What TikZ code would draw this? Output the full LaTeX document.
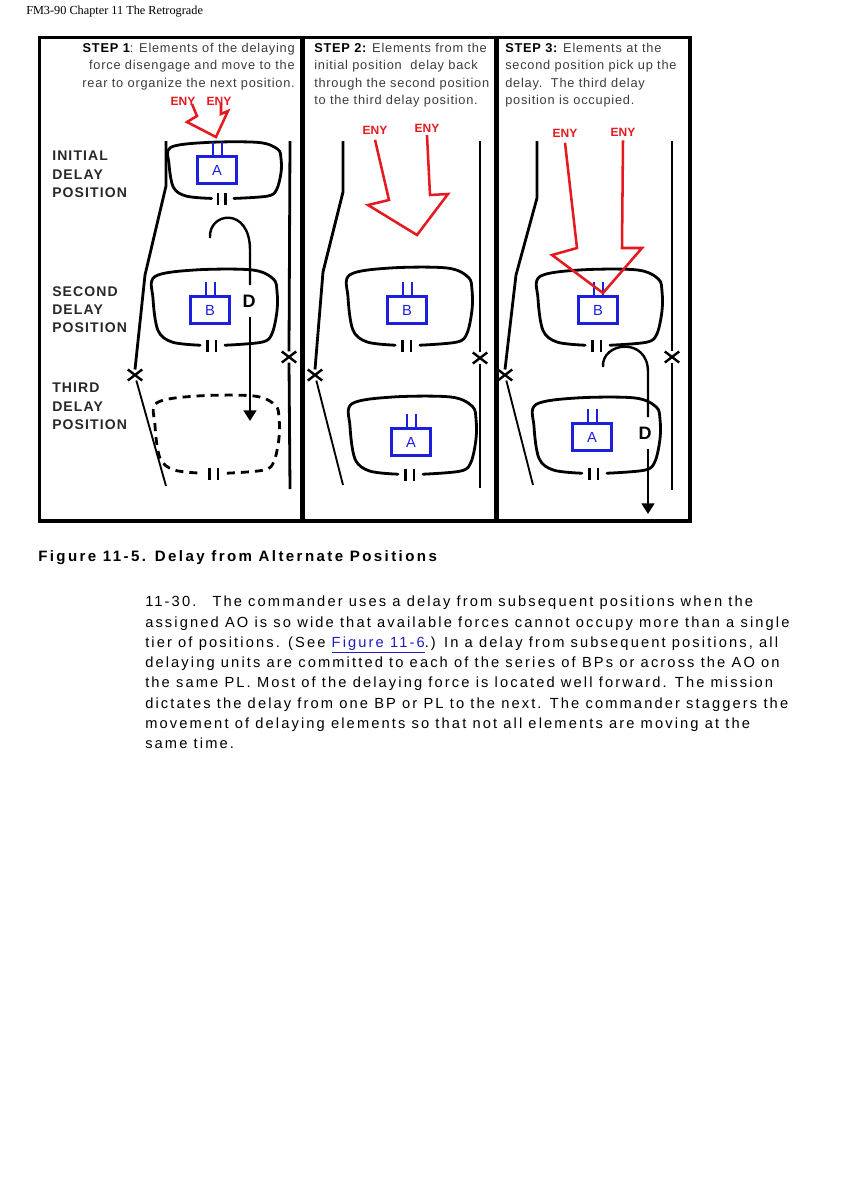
\documentclass[tikz,border=0pt]{standalone}
\usepackage{fontspec}
\setmainfont{Liberation Sans}
\newfontfamily\headfont{Liberation Serif}
\newfontfamily\stepfont{Liberation Sans}[LetterSpace=6]
\newfontfamily\labelfont{Liberation Sans}[LetterSpace=8]
\newfontfamily\capfont{Liberation Sans}[LetterSpace=16]
\newfontfamily\bodyfont{Liberation Sans}[LetterSpace=14.5]
\usetikzlibrary{arrows.meta,shapes.misc}
\definecolor{enyred}{RGB}{230,25,30}
\definecolor{unitblue}{RGB}{28,32,220}
\definecolor{stepgray}{RGB}{60,60,60}
\definecolor{labelgray}{RGB}{40,40,40}
\definecolor{linkblue}{RGB}{30,30,190}
\newcommand{\posblob}[5]{%
\begin{scope}[shift={(#1,#2)},xscale=#3,yscale=#4]
\draw[#5] plot[smooth,tension=0.55] coordinates {(0.16,0.98) (0.76,0.9) (0.92,0.68) (1,0.1) (1,-0.4) (0.94,-0.72) (0.6,-0.95) (-0.32,-0.95) (-0.97,-0.78) (-1,-0.22) (-0.92,0.6) (-0.69,0.9) (-0.24,0.98)};
\end{scope}
\draw[iimark] ({#1-0.12*#3},{#2+#4-6}) -- ++(0,12) ({#1+0.01*#3},{#2+#4-6}) -- ++(0,12);}
\newcommand{\unitticks}[1]{\draw[unittick] ([xshift=-3pt]#1.north) -- ++(0,-13) ([xshift=3.4pt]#1.north) -- ++(0,-13);}
\tikzset{
headtext/.style={font=\headfont\fontsize{9.2pt}{11pt}\selectfont,inner sep=0pt},
outerframe/.style={draw=black,line width=2.3pt},
divider/.style={draw=black,line width=3.3pt},
steptext/.style={font=\stepfont\fontsize{9.6pt}{13pt}\selectfont,text=stepgray,inner sep=0pt},
poslabel/.style={font=\labelfont\bfseries\fontsize{10.5pt}{13.7pt}\selectfont,text=labelgray,align=left,inner sep=0pt},
enylabel/.style={font=\bfseries\fontsize{9pt}{10pt}\selectfont,text=enyred,inner sep=0pt},
enyarrow/.style={draw=enyred,line width=1.9pt,line join=miter},
unitbox/.style={draw=unitblue,line width=1.9pt,minimum width=29pt,minimum height=20pt,inner sep=0pt,text=unitblue,font=\fontsize{11pt}{12pt}\selectfont},
unittick/.style={draw=unitblue,line width=1.5pt},
blob/.style={draw=black,line width=2.1pt,line cap=round},
dashblob/.style={draw=black,line width=2.1pt,dash pattern=on 6pt off 4.5pt},
iimark/.style={draw=black,line width=1.6pt},
posline/.style={draw=black,line width=2.1pt,line join=round},
thinline/.style={draw=black,line width=1.4pt},
xmark/.style={draw=black,cross out,line width=1.8pt,minimum width=9pt,minimum height=6.5pt,inner sep=0pt},
dlabel/.style={font=\bfseries\fontsize{13.5pt}{14pt}\selectfont,inner xsep=1pt,inner ysep=7pt},
moveline/.style={draw=black,line width=1.8pt},
movearrow/.style={draw=black,line width=1.8pt,-{Triangle[length=8pt,width=9.5pt]}},
captext/.style={font=\capfont\bfseries\fontsize{11.3pt}{12pt}\selectfont,inner sep=0pt},
bodytext/.style={font=\bodyfont\fontsize{11pt}{15.2pt}\selectfont,align=left,inner sep=0pt}
}
\begin{document}
\begin{tikzpicture}[x=0.75pt,y=-0.75pt]
\path[fill=white] (0,0) rectangle (846,1197);
\node[headtext,anchor=west] (runhead) at (26,12) {FM3-90 Chapter 11 The Retrograde};
\draw[outerframe] (39.5,37.5) rectangle (690,521);
\draw[divider] (302.5,37.5) -- (302.5,521);
\draw[divider] (496.5,37.5) -- (496.5,521);

\node[steptext,align=right,anchor=north east] (step1) at (295,43) {\textcolor{black}{\bfseries STEP 1}: Elements of the delaying\\force disengage and move to the\\rear to organize the next position.};
\node[steptext,align=left,anchor=north west] (step2) at (314,43) {\textcolor{black}{\bfseries STEP 2:} Elements from the\\initial position\ \ delay back\\through the second position\\to the third delay position.};
\node[steptext,align=left,anchor=north west] (step3) at (505,43) {\textcolor{black}{\bfseries STEP 3:} Elements at the\\second position pick up the\\delay.\ \ The third delay\\position is occupied.};

\node[poslabel,anchor=north west] (lblinit) at (52,151) {INITIAL\\DELAY\\POSITION};
\node[poslabel,anchor=north west] (lblsecond) at (52,286) {SECOND\\DELAY\\POSITION};
\node[poslabel,anchor=north west] (lblthird) at (52,383) {THIRD\\DELAY\\POSITION};

\node[xmark] (x1l) at (135,375) {};
\node[xmark] (x1r) at (289,357) {};
\draw[posline] (166,141) -- (166,186) -- (145,275) -- (x1l.north);
\draw[thinline] ([xshift=1pt]x1l.south) -- (166,486);
\draw[posline] (290,141) -- (x1r.north);
\draw[posline] (x1r.south) -- (290,489);
\node[xmark] (x2l) at (315,375) {};
\node[xmark] (x2r) at (480,358) {};
\draw[posline] (343,141) -- (343,192) -- (323,272) -- (x2l.north);
\draw[thinline] ([xshift=1pt]x2l.south) -- (343,485);
\draw[posline] (480,141) -- (x2r.north);
\draw[posline] (x2r.south) -- (480,488);
\node[xmark] (x3l) at (505,375) {};
\node[xmark] (x3r) at (672,357) {};
\draw[posline] (537,141) -- (537,198) -- (516,275) -- (x3l.north);
\draw[thinline] ([xshift=1pt]x3l.south) -- (533,485);
\draw[posline] (672,141) -- (x3r.north);
\draw[posline] (x3r.south) -- (672,490);

\posblob{225}{170}{56}{29}{blob}
\posblob{215}{307}{62}{39}{blob}
\posblob{217}{434}{62}{40}{dashblob}
\posblob{410}{306}{62}{40}{blob}
\posblob{413}{435}{63}{40}{blob}
\posblob{600}{307}{62}{39}{blob}
\posblob{597}{435}{63}{39}{blob}

\node[unitbox] (unitA1) at (217,170) {A};
\node[unitbox] (unitB1) at (210,310) {B};
\node[unitbox] (unitB2) at (407,310) {B};
\node[unitbox] (unitA2) at (411,442) {A};
\node[unitbox] (unitB3) at (598,310) {B};
\node[unitbox] (unitA3) at (592,437) {A};
\unitticks{unitA1}
\unitticks{unitB1}
\unitticks{unitB2}
\unitticks{unitA2}
\unitticks{unitB3}
\unitticks{unitA3}

\coordinate (m1s) at (210,238);
\coordinate (m1e) at (250,421);
\node[dlabel] (d1) at (249,301) {D};
\draw[moveline] (m1s) .. controls (208,212) and (250,206) .. (250,250) -- (m1e |- d1.north);
\draw[movearrow] (m1e |- d1.south) -- (m1e);
\coordinate (m3s) at (603,367);
\coordinate (m3e) at (648,514);
\node[dlabel] (d3) at (645,433) {D};
\draw[moveline] (m3s) .. controls (601,342) and (648,336) .. (648,372) -- (m3e |- d3.north);
\draw[movearrow] (m3e |- d3.south) -- (m3e);

\node[enylabel] (eny1a) at (183,101) {ENY};
\node[enylabel] (eny1b) at (219,101) {ENY};
\draw[enyarrow] (192,104) -- (197,116) -- (187,122) -- (216,137) -- (228,111) -- (221,114) -- (221,104);
\node[enylabel] (eny2a) at (375,130) {ENY};
\node[enylabel] (eny2b) at (427,128) {ENY};
\draw[enyarrow] ([yshift=-4pt]eny2a.south) -- (389,200) -- (368,205) -- (417,235) -- (448,194) -- (430,195) -- ([yshift=-2pt]eny2b.south);
\node[enylabel] (eny3a) at (565,133) {ENY};
\node[enylabel] (eny3b) at (623,132) {ENY};
\draw[enyarrow] ([yshift=-4pt]eny3a.south) -- (577,248) -- (552,255) -- (603,293) -- (642,248) -- (622,248) -- ([yshift=-3pt]eny3b.south);

\node[captext,anchor=west] (figcap) at (38,558) {Figure 11-5. Delay from Alternate Positions};
\node[bodytext,anchor=north west] (para) at (145,596) {11-30.\hspace*{1.1em}The commander uses a delay from subsequent positions when the\\assigned AO is so wide that available forces cannot occupy more than a single\\tier of positions. (See \textcolor{linkblue}{\underline{Figure 11-6}}.) In a delay from subsequent positions, all\\delaying units are committed to each of the series of BPs or across the AO on\\the same PL. Most of the delaying force is located well forward. The mission\\dictates the delay from one BP or PL to the next. The commander staggers the\\movement of delaying elements so that not all elements are moving at the\\same time.};
\end{tikzpicture}
\end{document}
